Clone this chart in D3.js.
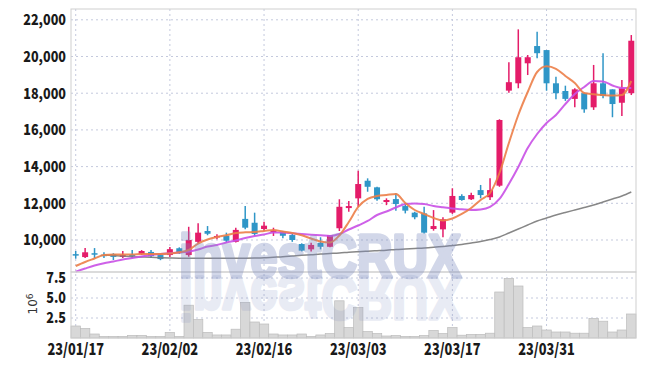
<!DOCTYPE html>
<html>
<head>
<meta charset="utf-8">
<script src="https://cdn.jsdelivr.net/npm/d3@7"></script>
<style>
body { margin: 0; background: #fff; }
text { font-family: "Noto Sans CJK KR", Roboto, sans-serif; }
</style>
</head>
<body>
<svg id="chart" width="645" height="366"></svg>
<script>
// trading days
var dates = ["23/01/17","23/01/18","23/01/19","23/01/20","23/01/25","23/01/26","23/01/27","23/01/30","23/01/31","23/02/01",
    "23/02/02","23/02/03","23/02/06","23/02/07","23/02/08","23/02/09","23/02/10","23/02/13","23/02/14","23/02/15",
    "23/02/16","23/02/17","23/02/20","23/02/21","23/02/22","23/02/23","23/02/24","23/02/27","23/02/28","23/03/02",
    "23/03/03","23/03/06","23/03/07","23/03/08","23/03/09","23/03/10","23/03/13","23/03/14","23/03/15","23/03/16",
    "23/03/17","23/03/20","23/03/21","23/03/22","23/03/23","23/03/24","23/03/27","23/03/28","23/03/29","23/03/30",
    "23/03/31","23/04/03","23/04/04","23/04/05","23/04/06","23/04/07","23/04/10","23/04/11","23/04/12","23/04/13"]

var openP = [9230,9070,9280,9200,9230,9080,9200,9240,9350,9180,
    9180,9550,9180,9900,10490,10150,10220,9900,11150,10940,
    10600,10440,10450,10270,9780,9490,9850,9630,10640,11740,
    12270,13230,12870,12070,12230,11850,11490,11450,10600,10580,
    11490,12400,12220,12720,12330,12960,18140,18540,19630,20570,
    20350,18540,18120,17690,18000,17230,18540,18210,17480,18000]
var highP = [9400,9560,9560,9330,9280,9400,9450,9450,9450,9230,
    9620,9600,10720,10910,10760,10310,10400,10670,11850,11490,
    11000,10670,10490,10330,9820,9850,10150,10270,12220,12130,
    13780,13360,12900,12270,12550,12000,11540,11810,11630,11240,
    12820,12490,12580,13000,13360,16580,19690,21480,20080,21350,
    20350,18900,18410,18270,18030,19540,20180,18210,18720,21170]
var lowP = [8980,9020,9020,9020,8910,9020,9020,9180,9020,8900,
    9070,9240,9090,9820,10260,10040,9850,9870,10580,10230,
    10510,10220,10090,9900,9380,9380,9490,9600,10490,11540,
    11810,12630,12140,11900,11600,11450,11130,10360,10510,10150,
    11420,12140,12180,12270,12180,12900,18030,18270,18990,19900,
    18140,17670,17580,17230,16940,17090,17720,16690,16760,17900]
var closeP = [9150,9330,9200,9170,9080,9180,9170,9400,9120,8960,
    9500,9280,10000,10400,10340,10220,9960,10550,10670,10330,
    10780,10510,10230,10000,9420,9730,9630,10270,11810,11850,
    13050,12900,12220,12180,11960,11600,11240,10400,10760,11130,
    12400,12180,12450,12450,12720,16540,18600,19960,19960,20180,
    18540,18000,17690,18210,17120,18540,17850,17410,18270,20860]

// volume, in millions of shares
var volume = [1.5,1.2,0.5,0.2,0.2,0.2,0.33,0.33,0.2,0.2,
    0.7,0.2,4.1,2.3,0.7,0.38,0.38,1.1,4.45,2.0,
    1.75,0.5,0.38,0.38,0.5,0.2,0.38,0.55,4.65,1.3,
    3.8,0.8,0.55,0.25,0.3,0.2,0.2,0.3,0.95,0.55,
    1.3,0.35,0.45,0.45,0.6,5.75,7.45,6.5,1.3,1.5,
    1.0,0.75,0.75,0.6,0.6,2.45,2.1,0.75,1.0,3.0]

// moving averages
var maShort = [8583,8801,8992,9183,9210,9210,9210,9237,9237,9237,
    9264,9330,9455,9809,10027,10164,10256,10382,10420,10436,
    10491,10545,10463,10382,10256,10082,9918,9864,10245,10981,
    11799,12235,12398,12453,12507,12017,11635,11417,11199,11063,
    11172,11417,11744,12180,12562,13652,15287,16813,18066,19156,
    19467,19330,18938,18557,18012,17946,17903,17875,17903,18666]
var maMid = [8272,8447,8610,8730,8828,8937,9019,9101,9183,9237,
    9275,9319,9373,9483,9646,9728,9864,9973,10109,10218,
    10300,10409,10409,10365,10327,10289,10256,10218,10327,10572,
    10790,11036,11363,11553,11771,11962,11989,11962,11853,11782,
    11717,11673,11635,11662,11799,12235,13052,13979,15014,15777,
    16377,16813,17412,17957,18339,18666,18638,18420,18284,18284]
var maLong = [null,null,null,9183,9155,9128,9090,9074,9057,9035,
    9019,9008,9008,9003,9003,9003,9003,9003,9008,9019,
    9035,9063,9090,9128,9166,9199,9237,9264,9292,9330,
    9362,9390,9417,9444,9483,9510,9537,9564,9602,9646,
    9700,9755,9837,9918,10027,10164,10382,10600,10818,11036,
    11199,11363,11499,11635,11771,11908,12071,12235,12398,12616]

var priceTicks = [10000,12000,14000,16000,18000,20000,22000]
var volTicks = [2.5,5.0,7.5]
var dateTicks = ["23/01/17","23/02/02","23/02/16","23/03/03","23/03/17","23/03/31"]

var upColor = "#e41c69"
var downColor = "#2f96c7"
var gridColor = "#c4c9dd"

var left = 71, right = 636, priceTop = 9, priceBottom = 272, volBottom = 338

var svg = d3.select("#chart")

var x = d3.scaleBand().domain(dates).range([left, right]).padding(0)
var y = d3.scaleLinear().domain([8256, 22589]).range([priceBottom, priceTop])
var yv = d3.scaleLinear().domain([0, 8.25]).range([volBottom, priceBottom])
function cx(d) { return x(d) + x.bandwidth() / 2 }

// grid lines
svg.append("g").selectAll("line").data(priceTicks).enter().append("line")
    .attr("x1", left).attr("x2", right)
    .attr("y1", function(d) { return y(d) }).attr("y2", function(d) { return y(d) })
    .attr("stroke", gridColor).attr("stroke-dasharray", "2,3")

svg.append("g").selectAll("line").data(volTicks).enter().append("line")
    .attr("x1", left).attr("x2", right)
    .attr("y1", function(d) { return yv(d) }).attr("y2", function(d) { return yv(d) })
    .attr("stroke", gridColor).attr("stroke-dasharray", "2,3")

svg.append("g").selectAll("line").data(dateTicks).enter().append("line")
    .attr("x1", function(d) { return cx(d) }).attr("x2", function(d) { return cx(d) })
    .attr("y1", priceTop).attr("y2", volBottom)
    .attr("stroke", gridColor).attr("stroke-dasharray", "2,3")

// volume bars
svg.append("g").selectAll("rect").data(volume).enter().append("rect")
    .attr("x", function(d, i) { return x(dates[i]) })
    .attr("width", x.bandwidth())
    .attr("y", function(d) { return yv(d) })
    .attr("height", function(d) { return volBottom - yv(d) })
    .attr("fill", "#d8d8d8")
    .attr("stroke", "#bcbcbc")
    .attr("stroke-width", 0.7)

// candles
var candles = svg.append("g").selectAll("g").data(dates).enter().append("g")
candles.append("line")
    .attr("x1", function(d) { return cx(d) }).attr("x2", function(d) { return cx(d) })
    .attr("y1", function(d, i) { return y(highP[i]) })
    .attr("y2", function(d, i) { return y(lowP[i]) })
    .attr("stroke", function(d, i) { return closeP[i] >= openP[i] ? upColor : downColor })
    .attr("stroke-width", 1.5)
candles.append("rect")
    .attr("x", function(d) { return cx(d) - 3 })
    .attr("width", 6)
    .attr("y", function(d, i) { return y(Math.max(openP[i], closeP[i])) })
    .attr("height", function(d, i) { return Math.max(1.5, Math.abs(y(openP[i]) - y(closeP[i]))) })
    .attr("fill", function(d, i) { return closeP[i] >= openP[i] ? upColor : downColor })

// moving averages
function maLine(arr, color, w) {
    var line = d3.line()
        .defined(function(d) { return d != null })
        .x(function(d, i) { return cx(dates[i]) })
        .y(function(d) { return y(d) })
        .curve(d3.curveMonotoneX)
    svg.append("path").datum(arr)
        .attr("d", line)
        .attr("fill", "none")
        .attr("stroke", color)
        .attr("stroke-width", w)
        .attr("opacity", 0.9)
}
maLine(maLong, "#7a7a7a", 1.5)
maLine(maMid, "#c950e6", 2)
maLine(maShort, "#ec7e48", 2)

// panel borders
svg.append("rect").attr("x", left).attr("y", priceTop)
    .attr("width", right - left).attr("height", priceBottom - priceTop)
    .attr("fill", "none").attr("stroke", "#cfcfcf")
svg.append("rect").attr("x", left).attr("y", priceBottom)
    .attr("width", right - left).attr("height", volBottom - priceBottom)
    .attr("fill", "none").attr("stroke", "#cfcfcf")

// watermark + reflection
function watermark(op, flip) {
    var t = svg.append("text")
        .attr("x", 179).attr("y", 277)
        .attr("textLength", 282).attr("lengthAdjust", "spacingAndGlyphs")
        .style("font-family", "'Liberation Sans', Arial, sans-serif")
        .style("font-weight", "900").style("font-size", "62px")
        .attr("fill", "#7d8cbf").attr("stroke", "#7d8cbf").attr("stroke-width", 3.5)
        .attr("stroke-linejoin", "round")
        .attr("opacity", op)
        .text("investCRUX")
    if (flip) t.attr("transform", "translate(0,554) scale(1,-1)")
}
watermark(0.34, false)
watermark(0.17, true)

// axis labels
svg.append("g").selectAll("text").data(priceTicks).enter().append("text")
    .attr("transform", function(d) { return "translate(66," + y(d) + ") scale(0.84,1)" })
    .attr("dy", "0.36em")
    .attr("text-anchor", "end")
    .style("font-size", "15px").style("font-weight", "900")
    .attr("fill", "#1a1a1a")
    .text(function(d) { return d3.format(",")(d) })

svg.append("g").selectAll("text").data(volTicks).enter().append("text")
    .attr("transform", function(d) { return "translate(66," + yv(d) + ") scale(0.84,1)" })
    .attr("dy", "0.36em")
    .attr("text-anchor", "end")
    .style("font-size", "15px").style("font-weight", "900")
    .attr("fill", "#1a1a1a")
    .text(function(d) { return d3.format(".1f")(d) })

svg.append("g").selectAll("text").data(dateTicks).enter().append("text")
    .attr("transform", function(d) { return "translate(" + cx(d) + ",355) scale(0.8,1)" })
    .attr("text-anchor", "middle")
    .style("font-size", "16px").style("font-weight", "900")
    .attr("fill", "#1a1a1a")
    .text(function(d) { return d })

var unit = svg.append("text")
    .attr("transform", "translate(37,304) rotate(-90)")
    .attr("text-anchor", "middle")
    .style("font-family", "'DejaVu Sans', sans-serif")
    .style("font-size", "12px")
    .attr("fill", "#333")
unit.append("tspan").text("10")
unit.append("tspan").attr("dy", "-0.5em").style("font-size", "9px").text("6")
</script>
</body>
</html>
